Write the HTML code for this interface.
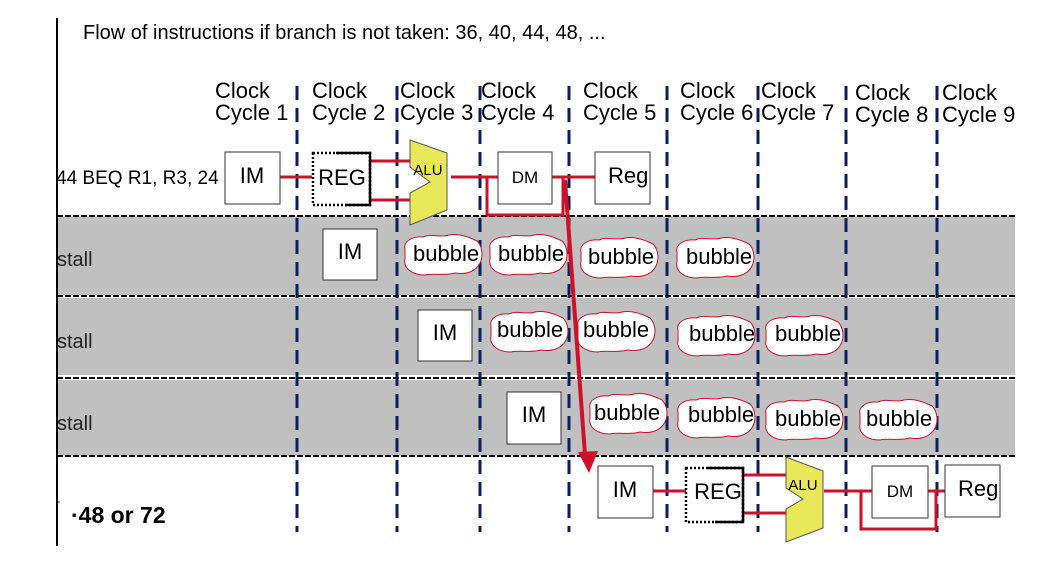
<!DOCTYPE html>
<html><head><meta charset="utf-8"><style>
html,body{margin:0;padding:0;background:#fff;}
svg{display:block;font-family:"Liberation Sans",sans-serif;}
</style></head><body>
<svg width="1052" height="567" viewBox="0 0 1052 567" xmlns="http://www.w3.org/2000/svg">
<defs>
<path id="bub" d="M-38,-6 C-40,-14 -30,-19 -20,-18 C-12,-22 -2,-17 6,-20 C16,-22 26,-18 34,-14 C40,-8 40,2 37,8 C33,16 24,20 12,18 C2,21 -10,18 -18,20 C-30,20 -40,14 -38,4 Z" fill="#fff" stroke="#d0102a" stroke-width="1"/>
</defs>
<rect x="57" y="216" width="958" height="79" fill="#c0c0c0"/>
<rect x="57" y="298" width="958" height="77" fill="#c0c0c0"/>
<rect x="57" y="380" width="958" height="76" fill="#c0c0c0"/>
<g stroke="#000" stroke-width="2" stroke-dasharray="6,2">
<line x1="57" y1="216" x2="1015" y2="216"/>
<line x1="57" y1="296" x2="1015" y2="296"/>
<line x1="57" y1="378" x2="1015" y2="378"/>
<line x1="57" y1="456" x2="1015" y2="456"/>
</g>
<line x1="57" y1="18" x2="57" y2="546" stroke="#000" stroke-width="2"/>
<text x="83" y="39" font-size="20">Flow of instructions if branch is not taken: 36, 40, 44, 48, ...</text>
<g font-size="22" fill="#000">
<text x="215" y="98">Clock</text><text x="215" y="120">Cycle 1</text>
<text x="312" y="98">Clock</text><text x="312" y="120">Cycle 2</text>
<text x="400" y="98">Clock</text><text x="400" y="120">Cycle 3</text>
<text x="481" y="98">Clock</text><text x="481" y="120">Cycle 4</text>
<text x="583" y="98">Clock</text><text x="583" y="120">Cycle 5</text>
<text x="680" y="98">Clock</text><text x="680" y="120">Cycle 6</text>
<text x="761" y="98">Clock</text><text x="761" y="120">Cycle 7</text>
<text x="855" y="100">Clock</text><text x="855" y="122">Cycle 8</text>
<text x="942" y="100">Clock</text><text x="942" y="122">Cycle 9</text>
</g>
<g stroke="#0a1f5c" stroke-width="3" stroke-dasharray="14,8">
<line x1="297" y1="86" x2="297" y2="532"/>
<line x1="397" y1="86" x2="397" y2="532"/>
<line x1="480" y1="86" x2="480" y2="532"/>
<line x1="569" y1="86" x2="569" y2="532"/>
<line x1="667" y1="86" x2="667" y2="532"/>
<line x1="758" y1="86" x2="758" y2="532"/>
<line x1="846" y1="86" x2="846" y2="532"/>
<line x1="937" y1="86" x2="937" y2="532"/>
</g>
<!-- row 1 -->
<text x="56" y="184" font-size="19">44 BEQ R1, R3, 24</text>
<g stroke="#d0102a" stroke-width="3" fill="none">
<line x1="280" y1="177" x2="312" y2="177"/>
<line x1="370" y1="161" x2="410" y2="161"/>
<line x1="370" y1="200" x2="410" y2="200"/>
<line x1="451" y1="177" x2="498" y2="177"/>
<polyline points="487,177 487,215 563,215 563,177"/>
<line x1="552" y1="177" x2="595" y2="177"/>
</g>
<rect x="225" y="152" width="55" height="52" fill="#fff" stroke="#333"/>
<text x="252" y="183" font-size="22" text-anchor="middle">IM</text>
<rect x="313" y="153" width="57" height="52" fill="#fff" stroke="#000" stroke-width="2.5" stroke-dasharray="2,2"/>
<polyline points="336,153 370,153 370,205 345,205" fill="none" stroke="#000" stroke-width="2.5"/>
<text x="342" y="185" font-size="22" text-anchor="middle">REG</text>
<polygon points="410,140 447,153 447,210 410,225 410,193 430,182 410,167" fill="#e8e85a" stroke="#555"/>
<text x="428" y="175" font-size="15" text-anchor="middle">ALU</text>
<rect x="498" y="152" width="54" height="52" fill="#fff" stroke="#333"/>
<text x="525" y="183" font-size="17" text-anchor="middle">DM</text>
<rect x="595" y="152" width="55" height="52" fill="#fff" stroke="#333"/>
<text x="608" y="183" font-size="22">Reg</text>
<!-- stall rows -->
<g font-size="20" fill="#222">
<text x="57" y="266">stall</text>
<text x="57" y="348">stall</text>
<text x="57" y="430">stall</text>
</g>
<rect x="323" y="229" width="54" height="51" fill="#fff" stroke="#333"/>
<text x="350" y="259" font-size="22" text-anchor="middle">IM</text>
<rect x="418" y="310" width="54" height="51" fill="#fff" stroke="#333"/>
<text x="445" y="340" font-size="22" text-anchor="middle">IM</text>
<rect x="507" y="392" width="54" height="52" fill="#fff" stroke="#333"/>
<text x="534" y="422" font-size="22" text-anchor="middle">IM</text>
<g font-size="22">
<use href="#bub" x="443" y="255"/><text x="413" y="261">bubble</text>
<use href="#bub" x="528" y="255"/><text x="498" y="261">bubble</text>
<use href="#bub" x="619" y="258"/><text x="588" y="264">bubble</text>
<use href="#bub" x="715" y="258"/><text x="686" y="264">bubble</text>
<use href="#bub" x="529" y="332"/><text x="497" y="337">bubble</text>
<use href="#bub" x="616" y="332"/><text x="583" y="337">bubble</text>
<use href="#bub" x="716" y="336"/><text x="689" y="341">bubble</text>
<use href="#bub" x="804" y="336"/><text x="775" y="341">bubble</text>
<use href="#bub" x="628" y="414"/><text x="594" y="420">bubble</text>
<use href="#bub" x="716" y="418"/><text x="688" y="422">bubble</text>
<use href="#bub" x="804" y="420"/><text x="775" y="426">bubble</text>
<use href="#bub" x="898" y="420"/><text x="866" y="426">bubble</text>
</g>
<!-- branch arrow -->
<line x1="565" y1="180" x2="585" y2="455" stroke="#d0102a" stroke-width="4"/>
<polygon points="578,452 598,451 589,473" fill="#d0102a"/>
<!-- row 5 -->
<g stroke="#d0102a" stroke-width="3" fill="none">
<line x1="653" y1="491" x2="687" y2="491"/>
<line x1="743" y1="475" x2="786" y2="475"/>
<line x1="743" y1="513" x2="786" y2="513"/>
<line x1="824" y1="491" x2="872" y2="491"/>
<polyline points="861,491 861,529 936,529 936,491"/>
<line x1="928" y1="491" x2="945" y2="491"/>
</g>
<rect x="598" y="466" width="55" height="52" fill="#fff" stroke="#333"/>
<text x="625" y="497" font-size="22" text-anchor="middle">IM</text>
<rect x="686" y="468" width="57" height="54" fill="#fff" stroke="#000" stroke-width="2.5" stroke-dasharray="2,2"/>
<polyline points="708,468 743,468 743,522 715,522" fill="none" stroke="#000" stroke-width="2.5"/>
<text x="718" y="499" font-size="22" text-anchor="middle">REG</text>
<polygon points="786,457 823,471 823,528 786,542 786,509 803,499 786,488" fill="#e8e85a" stroke="#555"/>
<text x="803" y="490" font-size="15" text-anchor="middle">ALU</text>
<rect x="872" y="466" width="56" height="52" fill="#fff" stroke="#333"/>
<text x="900" y="497" font-size="17" text-anchor="middle">DM</text>
<rect x="945" y="465" width="55" height="52" fill="#fff" stroke="#333"/>
<text x="958" y="496" font-size="22">Reg</text>
<text x="58" y="508" font-size="10">'</text>
<text x="71" y="523" font-size="23" font-weight="bold">·48 or 72</text>
</svg>
</body></html>
